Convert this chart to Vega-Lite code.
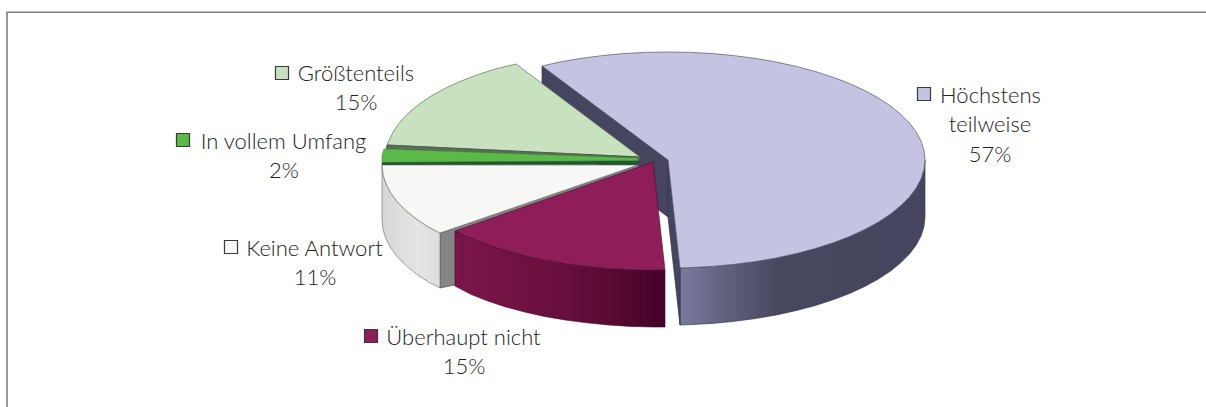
{"$schema":"https://vega.github.io/schema/vega-lite/v6.json","width":1206,"height":407,"padding":0,"autosize":{"type":"none"},"background":"white","config":{"view":{"stroke":null}},
"datasets":{"shapes":[
{"part":"frame","i":0,"x":7,"y":407},{"part":"frame","i":1,"x":7,"y":12.3},{"part":"frame","i":2,"x":1206,"y":12.3},
{"part":"hs","i":0,"x":925,"y":160},{"part":"hs","i":1,"x":924,"y":169.4},{"part":"hs","i":2,"x":921.1,"y":178.8},{"part":"hs","i":3,"x":916.2,"y":188},{"part":"hs","i":4,"x":909.5,"y":196.9},{"part":"hs","i":5,"x":900.9,"y":205.6},{"part":"hs","i":6,"x":890.6,"y":214},{"part":"hs","i":7,"x":878.5,"y":221.9},{"part":"hs","i":8,"x":864.9,"y":229.4},{"part":"hs","i":9,"x":849.7,"y":236.4},{"part":"hs","i":10,"x":833.2,"y":242.7},{"part":"hs","i":11,"x":815.4,"y":248.5},{"part":"hs","i":12,"x":796.5,"y":253.5},{"part":"hs","i":13,"x":776.6,"y":257.9},{"part":"hs","i":14,"x":755.9,"y":261.5},{"part":"hs","i":15,"x":734.5,"y":264.3},{"part":"hs","i":16,"x":712.6,"y":266.4},{"part":"hs","i":17,"x":690.4,"y":267.6},{"part":"hs","i":18,"x":680,"y":268},{"part":"hs","i":19,"x":680,"y":325},{"part":"hs","i":20,"x":690.4,"y":324.6},{"part":"hs","i":21,"x":712.6,"y":323.4},{"part":"hs","i":22,"x":734.5,"y":321.3},{"part":"hs","i":23,"x":755.9,"y":318.5},{"part":"hs","i":24,"x":776.6,"y":314.9},{"part":"hs","i":25,"x":796.5,"y":310.5},{"part":"hs","i":26,"x":815.4,"y":305.5},{"part":"hs","i":27,"x":833.2,"y":299.7},{"part":"hs","i":28,"x":849.7,"y":293.4},{"part":"hs","i":29,"x":864.9,"y":286.4},{"part":"hs","i":30,"x":878.5,"y":278.9},{"part":"hs","i":31,"x":890.6,"y":271},{"part":"hs","i":32,"x":900.9,"y":262.6},{"part":"hs","i":33,"x":909.5,"y":253.9},{"part":"hs","i":34,"x":916.2,"y":245},{"part":"hs","i":35,"x":921.1,"y":235.8},{"part":"hs","i":36,"x":924,"y":226.4},{"part":"hs","i":37,"x":925,"y":217},{"part":"hs","i":38,"x":925,"y":160},
{"part":"hf1","i":0,"x":542,"y":66},{"part":"hf1","i":1,"x":668,"y":160},{"part":"hf1","i":2,"x":668,"y":217},{"part":"hf1","i":3,"x":542,"y":123},{"part":"hf1","i":4,"x":542,"y":66},
{"part":"hf2","i":0,"x":668,"y":160},{"part":"hf2","i":1,"x":680,"y":268},{"part":"hf2","i":2,"x":680,"y":325},{"part":"hf2","i":3,"x":668,"y":217},{"part":"hf2","i":4,"x":668,"y":160},
{"part":"ht","i":0,"x":542,"y":66},{"part":"ht","i":1,"x":559.4,"y":62.1},{"part":"ht","i":2,"x":580.1,"y":58.5},{"part":"ht","i":3,"x":601.5,"y":55.7},{"part":"ht","i":4,"x":623.4,"y":53.6},{"part":"ht","i":5,"x":645.6,"y":52.4},{"part":"ht","i":6,"x":668,"y":52},{"part":"ht","i":7,"x":690.4,"y":52.4},{"part":"ht","i":8,"x":712.6,"y":53.6},{"part":"ht","i":9,"x":734.5,"y":55.7},{"part":"ht","i":10,"x":755.9,"y":58.5},{"part":"ht","i":11,"x":776.6,"y":62.1},{"part":"ht","i":12,"x":796.5,"y":66.5},{"part":"ht","i":13,"x":815.4,"y":71.5},{"part":"ht","i":14,"x":833.2,"y":77.3},{"part":"ht","i":15,"x":849.7,"y":83.6},{"part":"ht","i":16,"x":864.9,"y":90.6},{"part":"ht","i":17,"x":878.5,"y":98.1},{"part":"ht","i":18,"x":890.6,"y":106},{"part":"ht","i":19,"x":900.9,"y":114.4},{"part":"ht","i":20,"x":909.5,"y":123.1},{"part":"ht","i":21,"x":916.2,"y":132},{"part":"ht","i":22,"x":921.1,"y":141.2},{"part":"ht","i":23,"x":924,"y":150.6},{"part":"ht","i":24,"x":925,"y":160},{"part":"ht","i":25,"x":924,"y":169.4},{"part":"ht","i":26,"x":921.1,"y":178.8},{"part":"ht","i":27,"x":916.2,"y":188},{"part":"ht","i":28,"x":909.5,"y":196.9},{"part":"ht","i":29,"x":900.9,"y":205.6},{"part":"ht","i":30,"x":890.6,"y":214},{"part":"ht","i":31,"x":878.5,"y":221.9},{"part":"ht","i":32,"x":864.9,"y":229.4},{"part":"ht","i":33,"x":849.7,"y":236.4},{"part":"ht","i":34,"x":833.2,"y":242.7},{"part":"ht","i":35,"x":815.4,"y":248.5},{"part":"ht","i":36,"x":796.5,"y":253.5},{"part":"ht","i":37,"x":776.6,"y":257.9},{"part":"ht","i":38,"x":755.9,"y":261.5},{"part":"ht","i":39,"x":734.5,"y":264.3},{"part":"ht","i":40,"x":712.6,"y":266.4},{"part":"ht","i":41,"x":690.4,"y":267.6},{"part":"ht","i":42,"x":680,"y":268},{"part":"ht","i":43,"x":668,"y":160},{"part":"ht","i":44,"x":542,"y":66},
{"part":"gt","i":0,"x":516,"y":64},{"part":"gt","i":1,"x":494.3,"y":69.3},{"part":"gt","i":2,"x":476.7,"y":75},{"part":"gt","i":3,"x":460.4,"y":81.3},{"part":"gt","i":4,"x":445.4,"y":88.2},{"part":"gt","i":5,"x":431.9,"y":95.6},{"part":"gt","i":6,"x":420,"y":103.5},{"part":"gt","i":7,"x":409.8,"y":111.8},{"part":"gt","i":8,"x":401.3,"y":120.4},{"part":"gt","i":9,"x":394.7,"y":129.3},{"part":"gt","i":10,"x":389.9,"y":138.4},{"part":"gt","i":11,"x":387,"y":145},{"part":"gt","i":12,"x":640,"y":157},{"part":"gt","i":13,"x":516,"y":64},
{"part":"gs","i":0,"x":387,"y":145},{"part":"gs","i":1,"x":640,"y":157},{"part":"gs","i":2,"x":640,"y":160},{"part":"gs","i":3,"x":386,"y":149},{"part":"gs","i":4,"x":387,"y":145},
{"part":"bt","i":0,"x":384,"y":149},{"part":"bt","i":1,"x":638,"y":158},{"part":"bt","i":2,"x":638,"y":161},{"part":"bt","i":3,"x":382,"y":162.5},{"part":"bt","i":4,"x":382,"y":155},{"part":"bt","i":5,"x":384,"y":149},
{"part":"bs","i":0,"x":382,"y":162.5},{"part":"bs","i":1,"x":638,"y":161},{"part":"bs","i":2,"x":639,"y":164.5},{"part":"bs","i":3,"x":382,"y":165},{"part":"bs","i":4,"x":382,"y":162.5},
{"part":"wf","i":0,"x":440,"y":233},{"part":"wf","i":1,"x":638,"y":165},{"part":"wf","i":2,"x":640,"y":168},{"part":"wf","i":3,"x":455,"y":285},{"part":"wf","i":4,"x":440,"y":288},{"part":"wf","i":5,"x":440,"y":233},
{"part":"ws","i":0,"x":382,"y":165},{"part":"ws","i":1,"x":383,"y":174.4},{"part":"ws","i":2,"x":385.9,"y":183.8},{"part":"ws","i":3,"x":390.7,"y":193},{"part":"ws","i":4,"x":397.4,"y":201.9},{"part":"ws","i":5,"x":406,"y":210.6},{"part":"ws","i":6,"x":416.3,"y":219},{"part":"ws","i":7,"x":428.3,"y":226.9},{"part":"ws","i":8,"x":440,"y":233},{"part":"ws","i":9,"x":440,"y":288},{"part":"ws","i":10,"x":428.3,"y":281.9},{"part":"ws","i":11,"x":416.3,"y":274},{"part":"ws","i":12,"x":406,"y":265.6},{"part":"ws","i":13,"x":397.4,"y":256.9},{"part":"ws","i":14,"x":390.7,"y":248},{"part":"ws","i":15,"x":385.9,"y":238.8},{"part":"ws","i":16,"x":383,"y":229.4},{"part":"ws","i":17,"x":382,"y":220},{"part":"ws","i":18,"x":382,"y":165},
{"part":"wt","i":0,"x":382,"y":165},{"part":"wt","i":1,"x":383,"y":174.4},{"part":"wt","i":2,"x":385.9,"y":183.8},{"part":"wt","i":3,"x":390.7,"y":193},{"part":"wt","i":4,"x":397.4,"y":201.9},{"part":"wt","i":5,"x":406,"y":210.6},{"part":"wt","i":6,"x":416.3,"y":219},{"part":"wt","i":7,"x":428.3,"y":226.9},{"part":"wt","i":8,"x":440,"y":233},{"part":"wt","i":9,"x":638,"y":165},{"part":"wt","i":10,"x":382,"y":165},
{"part":"ms","i":0,"x":455,"y":231},{"part":"ms","i":1,"x":471.3,"y":238.4},{"part":"ms","i":2,"x":487.8,"y":244.7},{"part":"ms","i":3,"x":505.6,"y":250.5},{"part":"ms","i":4,"x":524.5,"y":255.5},{"part":"ms","i":5,"x":544.4,"y":259.9},{"part":"ms","i":6,"x":565.1,"y":263.5},{"part":"ms","i":7,"x":586.5,"y":266.3},{"part":"ms","i":8,"x":608.4,"y":268.4},{"part":"ms","i":9,"x":630.6,"y":269.6},{"part":"ms","i":10,"x":653,"y":270},{"part":"ms","i":11,"x":665,"y":270},{"part":"ms","i":12,"x":665,"y":327},{"part":"ms","i":13,"x":653,"y":327},{"part":"ms","i":14,"x":630.6,"y":326.4},{"part":"ms","i":15,"x":608.4,"y":325},{"part":"ms","i":16,"x":586.5,"y":322.8},{"part":"ms","i":17,"x":565.1,"y":320},{"part":"ms","i":18,"x":544.4,"y":316.4},{"part":"ms","i":19,"x":524.5,"y":312},{"part":"ms","i":20,"x":505.6,"y":306.9},{"part":"ms","i":21,"x":487.8,"y":301},{"part":"ms","i":22,"x":471.3,"y":294.6},{"part":"ms","i":23,"x":455,"y":286},{"part":"ms","i":24,"x":455,"y":231},
{"part":"mt","i":0,"x":455,"y":231},{"part":"mt","i":1,"x":471.3,"y":238.4},{"part":"mt","i":2,"x":487.8,"y":244.7},{"part":"mt","i":3,"x":505.6,"y":250.5},{"part":"mt","i":4,"x":524.5,"y":255.5},{"part":"mt","i":5,"x":544.4,"y":259.9},{"part":"mt","i":6,"x":565.1,"y":263.5},{"part":"mt","i":7,"x":586.5,"y":266.3},{"part":"mt","i":8,"x":608.4,"y":268.4},{"part":"mt","i":9,"x":630.6,"y":269.6},{"part":"mt","i":10,"x":653,"y":270},{"part":"mt","i":11,"x":665,"y":270},{"part":"mt","i":12,"x":653,"y":162},{"part":"mt","i":13,"x":455,"y":231}
],
"labels":[
{"text":"Höchstens","x":990.5,"y":96},{"text":"teilweise","x":990,"y":125},{"text":"57%","x":990,"y":155},
{"text":"Größtenteils","x":356,"y":74},{"text":"15%","x":356,"y":103},
{"text":"In vollem Umfang","x":283.5,"y":142},{"text":"2%","x":284,"y":171},
{"text":"Keine Antwort","x":314.5,"y":249},{"text":"11%","x":315,"y":278},
{"text":"Überhaupt nicht","x":463.5,"y":338},{"text":"15%","x":464,"y":367}
],
"keys":[
{"category":"Höchstens teilweise","x":924,"y":94},{"category":"Größtenteils","x":282,"y":73},{"category":"In vollem Umfang","x":183,"y":140},{"category":"Keine Antwort","x":231,"y":247},{"category":"Überhaupt nicht","x":371,"y":336}
]},
"encoding":{"x":{"field":"x","type":"quantitative","scale":{"domain":[0,1206],"range":[0,1206],"nice":false,"zero":false},"axis":null},"y":{"field":"y","type":"quantitative","scale":{"domain":[407,0],"range":[407,0],"nice":false,"zero":false},"axis":null}},
"layer":[
{"data":{"name":"shapes"},"transform":[{"filter":"datum.part==='frame'"}],"mark":{"type":"line","stroke":"#7f7f7f","strokeWidth":1.6,"clip":false},"encoding":{"order":{"field":"i","type":"quantitative"}}},
{"data":{"name":"shapes"},"transform":[{"filter":"datum.part==='hs'"}],"mark":{"type":"line","fill":{"gradient":"linear","x1":0,"x2":1,"y1":0,"y2":0,"stops":[{"offset":0,"color":"#7a7a9e"},{"offset":0.18,"color":"#62627f"},{"offset":0.4,"color":"#47475f"},{"offset":1,"color":"#45455f"}]},"stroke":"#3a3a50","strokeWidth":0.7},"encoding":{"order":{"field":"i","type":"quantitative"}}},
{"data":{"name":"shapes"},"transform":[{"filter":"datum.part==='hf1'"}],"mark":{"type":"line","fill":"#45455f","stroke":"#33334a","strokeWidth":0.7},"encoding":{"order":{"field":"i","type":"quantitative"}}},
{"data":{"name":"shapes"},"transform":[{"filter":"datum.part==='hf2'"}],"mark":{"type":"line","fill":"#45455f","stroke":"#33334a","strokeWidth":0.7},"encoding":{"order":{"field":"i","type":"quantitative"}}},
{"data":{"name":"shapes"},"transform":[{"filter":"datum.part==='ht'"}],"mark":{"type":"line","fill":"#c4c3e2","stroke":"#55556a","strokeWidth":0.7},"encoding":{"order":{"field":"i","type":"quantitative"}}},
{"data":{"name":"shapes"},"transform":[{"filter":"datum.part==='gt'"}],"mark":{"type":"line","fill":"#c8e2c0","stroke":"#5f6f5c","strokeWidth":0.7},"encoding":{"order":{"field":"i","type":"quantitative"}}},
{"data":{"name":"shapes"},"transform":[{"filter":"datum.part==='gs'"}],"mark":{"type":"line","fill":"#5a6f5a","stroke":"#3f4f40","strokeWidth":0.7},"encoding":{"order":{"field":"i","type":"quantitative"}}},
{"data":{"name":"shapes"},"transform":[{"filter":"datum.part==='bt'"}],"mark":{"type":"line","fill":"#59ba47","stroke":"#3e8a35","strokeWidth":0.5},"encoding":{"order":{"field":"i","type":"quantitative"}}},
{"data":{"name":"shapes"},"transform":[{"filter":"datum.part==='bs'"}],"mark":{"type":"line","fill":"#1e5a2e","stroke":"#1e4a28","strokeWidth":0.5},"encoding":{"order":{"field":"i","type":"quantitative"}}},
{"data":{"name":"shapes"},"transform":[{"filter":"datum.part==='wf'"}],"mark":{"type":"line","fill":"#858585","stroke":"#555555","strokeWidth":0.7},"encoding":{"order":{"field":"i","type":"quantitative"}}},
{"data":{"name":"shapes"},"transform":[{"filter":"datum.part==='ws'"}],"mark":{"type":"line","fill":{"gradient":"linear","x1":0,"x2":1,"y1":0,"y2":0,"stops":[{"offset":0,"color":"#d6d6d6"},{"offset":0.6,"color":"#e4e4e4"},{"offset":1,"color":"#dedede"}]},"stroke":"#666666","strokeWidth":0.6},"encoding":{"order":{"field":"i","type":"quantitative"}}},
{"data":{"name":"shapes"},"transform":[{"filter":"datum.part==='wt'"}],"mark":{"type":"line","fill":"#f7f7f5","stroke":"#666666","strokeWidth":0.6},"encoding":{"order":{"field":"i","type":"quantitative"}}},
{"data":{"name":"shapes"},"transform":[{"filter":"datum.part==='ms'"}],"mark":{"type":"line","fill":{"gradient":"linear","x1":0,"x2":1,"y1":0,"y2":0,"stops":[{"offset":0,"color":"#7c164a"},{"offset":0.5,"color":"#680f3e"},{"offset":0.8,"color":"#56082f"},{"offset":1,"color":"#43032a"}]},"stroke":"#3d0a26","strokeWidth":0.6},"encoding":{"order":{"field":"i","type":"quantitative"}}},
{"data":{"name":"shapes"},"transform":[{"filter":"datum.part==='mt'"}],"mark":{"type":"line","fill":"#8e1d5a","stroke":"#4a1030","strokeWidth":0.6},"encoding":{"order":{"field":"i","type":"quantitative"}}},
{"data":{"name":"keys"},"mark":{"type":"point","shape":"square","filled":true,"size":170,"stroke":"#3a3a3a","strokeWidth":1.2,"opacity":1},"encoding":{"fill":{"field":"category","type":"nominal","legend":null,"scale":{"domain":["Höchstens teilweise","Größtenteils","In vollem Umfang","Keine Antwort","Überhaupt nicht"],"range":["#c4c3e2","#c8e2c0","#59ba47","#f7f7f5","#8e1d5a"]}}}},
{"data":{"name":"labels"},"mark":{"type":"text","font":"Lato","fontSize":22,"fontWeight":300,"color":"#222222","align":"center","baseline":"middle"},"encoding":{"text":{"field":"text","type":"nominal"}}}
]}
